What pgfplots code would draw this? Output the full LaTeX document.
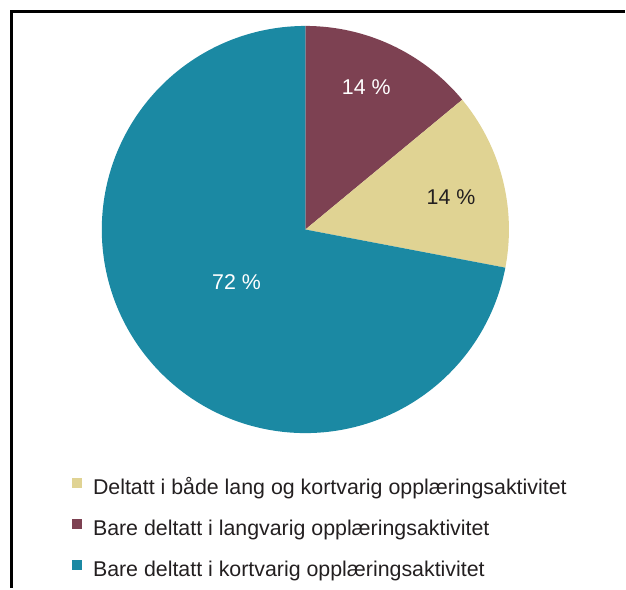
\documentclass[border=0pt]{standalone}
\usepackage{pgfplots}
\pgfplotsset{compat=1.18}
\usepackage{fontspec}
\setmainfont{Liberation Sans}
\definecolor{cmaroon}{HTML}{7D4152}
\definecolor{cbeige}{HTML}{E0D393}
\definecolor{cteal}{HTML}{1B89A3}
\definecolor{ctext}{HTML}{231F20}
% shares in percent, clockwise from 12 o'clock
\def\vA{14}% Bare deltatt i langvarig
\def\vB{14}% Deltatt i både lang og kortvarig
\def\vC{72}% Bare deltatt i kortvarig
\begin{document}
\begin{tikzpicture}
\begin{axis}[
  width=626pt, height=589pt, scale only axis,
  xmin=0, xmax=626, ymin=0, ymax=589, y dir=reverse,
  hide axis, clip=false,
  legend cell align=left,
  legend style={draw=none, fill=none, at={(axis cs:72,479)}, anchor=north west,
    font=\fontsize{21.4}{23}\selectfont, text=ctext, row sep=20pt,
    inner sep=0pt, nodes={inner sep=0pt, text height=15pt, text depth=5pt},
    /tikz/every odd column/.append style={column sep=11pt}},
  legend image code/.code={\fill[#1, draw=none] (0pt,1pt) rectangle (10pt,11pt);},
]
\path (rel axis cs:0,0) rectangle (rel axis cs:1,1);
\addplot[forget plot, black, line width=2.6pt] coordinates {(11.4,589) (11.4,11.4) (626,11.4)};
\addplot[forget plot, fill=cmaroon, draw=none, domain={90}:{90-3.6*\vA}, samples=80]
  ({306+204*cos(x)},{230-204*sin(x)}) -- (axis cs:306,230) -- cycle;
\addplot[forget plot, fill=cbeige, draw=none, domain={90-3.6*\vA}:{90-3.6*(\vA+\vB)}, samples=80]
  ({306+204*cos(x)},{230-204*sin(x)}) -- (axis cs:306,230) -- cycle;
\addplot[forget plot, fill=cteal, draw=none, domain={90-3.6*(\vA+\vB)}:{90-3.6*(\vA+\vB+\vC)}, samples=200]
  ({306+204*cos(x)},{230-204*sin(x)}) -- (axis cs:306,230) -- cycle;
\node[font=\fontsize{21.4}{23}\selectfont, text=white] at (axis cs:367,87) {14 \%};
\node[font=\fontsize{21.4}{23}\selectfont, text=ctext] at (axis cs:452,198) {14 \%};
\node[font=\fontsize{21.4}{23}\selectfont, text=white] at (axis cs:237,283) {72 \%};
\addlegendimage{fill=cbeige}
\addlegendentry{Deltatt i både lang og kortvarig opplæringsaktivitet}
\addlegendimage{fill=cmaroon}
\addlegendentry{Bare deltatt i langvarig opplæringsaktivitet}
\addlegendimage{fill=cteal}
\addlegendentry{Bare deltatt i kortvarig opplæringsaktivitet}
\end{axis}
\end{tikzpicture}
\end{document}
